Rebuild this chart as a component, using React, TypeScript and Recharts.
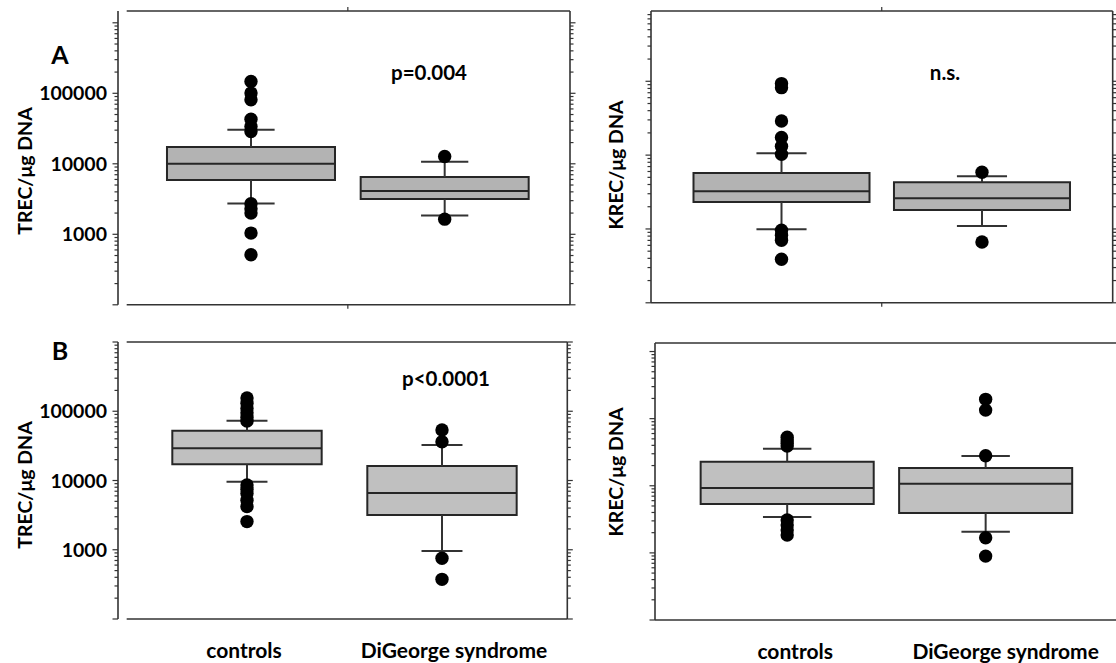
import React from 'react';
import { ComposedChart, XAxis, YAxis, Scatter, ReferenceArea, ReferenceLine } from 'recharts';

// ---------- data ----------
const CATEGORIES = ['controls', 'DiGeorge syndrome'];
const CATEGORY_X = [1, 2];
const Y_LABELED_TICKS = [1000, 10000, 100000];

// Panel A – TREC/µg DNA (cohort A)
const A_WHISKER_LOW = [2735, 1850];
const A_Q1 = [5880, 3160];
const A_MEDIAN = [10000, 4100];
const A_Q3 = [17250, 6480];
const A_WHISKER_HIGH = [30300, 10670];
const A_OUTLIERS_CONTROLS = [146800, 100700, 80900, 43000, 33800, 28700, 2710, 2300, 2000, 1040, 512];
const A_OUTLIERS_DIGEORGE = [12700, 1640];

// Panel A right – KREC/µg DNA
const C_WHISKER_LOW = [988, 1096];
const C_Q1 = [2320, 1807];
const C_MEDIAN = [3235, 2600];
const C_Q3 = [5730, 4290];
const C_WHISKER_HIGH = [10600, 5160];
const C_OUTLIERS_CONTROLS = [93000, 82000, 29000, 17300, 13200, 10250, 960, 820, 702, 388];
const C_OUTLIERS_DIGEORGE = [5850, 666];

// Panel B – TREC/µg DNA (cohort B)
const B_WHISKER_LOW = [9600, 960];
const B_Q1 = [17100, 3180];
const B_MEDIAN = [29200, 6600];
const B_Q3 = [52400, 16200];
const B_WHISKER_HIGH = [73100, 32600];
const B_OUTLIERS_CONTROLS = [155000, 130000, 110000, 95000, 82000, 72000, 8600, 7500, 6500, 5200, 4200, 2550];
const B_OUTLIERS_DIGEORGE = [53600, 36300, 753, 374];

// Panel B right – KREC/µg DNA
const D_WHISKER_LOW = [3420, 2060];
const D_Q1 = [5340, 3920];
const D_MEDIAN = [9250, 10700];
const D_Q3 = [22800, 18400];
const D_WHISKER_HIGH = [35600, 27700];
const D_OUTLIERS_CONTROLS = [53000, 48000, 43000, 39000, 3100, 2600, 2200, 1850];
const D_OUTLIERS_DIGEORGE = [194000, 134000, 28000, 1680, 895];

// ---------- styling ----------
const FONT = "Lato, 'Open Sans', 'DejaVu Sans', sans-serif";
const LINE = '#333333';
const BOX_STROKE = '#262626';

function logTicks(lo: number, hi: number) {
  const out: number[] = [];
  for (let d = 1; d <= 7; d++) {
    for (let m = 1; m <= 9; m++) {
      const v = m * Math.pow(10, d);
      if (v >= lo * 0.9999 && v <= hi * 1.0001) out.push(v);
    }
  }
  return out;
}

function isMajor(v: number) {
  const l = Math.log10(v);
  return Math.abs(l - Math.round(l)) < 1e-6;
}

const YTick = (props: any) => {
  const { x, y, payload, side, showLabels } = props;
  const v = payload.value;
  const major = isMajor(v);
  const len = major ? 5.5 : 3.5;
  const dir = side === 'left' ? -1 : 1;
  return (
    <g>
      <line x1={x} x2={x + dir * len} y1={y} y2={y} stroke={LINE} strokeWidth={1.2} />
      {showLabels && major && Y_LABELED_TICKS.includes(v) ? (
        <text x={x - 11} y={y} dy="0.36em" textAnchor="end" fontFamily={FONT} fontWeight={700} fontSize={19.5} fill="#000">
          {String(Math.round(v))}
        </text>
      ) : null}
    </g>
  );
};

const XTick = (props: any) => {
  const { x, y, payload, labelDx, up } = props;
  const v = payload.value;
  const i = CATEGORY_X.indexOf(v);
  if (i < 0) {
    return <line x1={x} x2={x} y1={y} y2={up ? y - 4 : y + 4} stroke={LINE} strokeWidth={1.2} />;
  }
  return (
    <text x={x + (labelDx ? labelDx[i] : 0)} y={y + 31} dy="0.36em" textAnchor="middle" fontFamily={FONT} fontWeight={700} fontSize={21} fill="#000">
      {CATEGORIES[i]}
    </text>
  );
};

type PanelCfg = {
  plotLeft: number; plotTop: number; plotRight: number; plotBottom: number;
  xDomain: [number, number]; frameX0: number; yDomain: [number, number];
  boxHalf: number; capHalf: number; fill: string;
  centerTick: boolean; catLabels: boolean; labelDx: number[]; yLabels: boolean;
  lo: number[]; q1: number[]; med: number[]; q3: number[]; hi: number[];
  outControls: number[]; outDiGeorge: number[];
};

function Panel({ cfg }: { cfg: PanelCfg }) {
  const LEFT_W = 110, RIGHT_W = 12, TOP_H = 10, BOTTOM_H = 50, PAD = 4;
  const divLeft = cfg.plotLeft - LEFT_W - PAD;
  const divTop = cfg.plotTop - TOP_H - PAD;
  const width = cfg.plotRight + RIGHT_W + PAD - divLeft;
  const height = cfg.plotBottom + BOTTOM_H + PAD - divTop;
  const yTicks = logTicks(cfg.yDomain[0], cfg.yDomain[1]);
  const [yMin, yMax] = cfg.yDomain;
  const xMax = cfg.xDomain[1];
  const outliers = [
    ...cfg.outControls.map((v) => ({ x: CATEGORY_X[0], y: v })),
    ...cfg.outDiGeorge.map((v) => ({ x: CATEGORY_X[1], y: v })),
  ];
  const ax = { xAxisId: 'b', yAxisId: 'l' } as const;
  const bottomTicks = cfg.catLabels ? CATEGORY_X : cfg.centerTick ? [1.5] : [];
  return (
    <div style={{ position: 'absolute', left: divLeft, top: divTop, width, height }}>
      <ComposedChart width={width} height={height} margin={{ top: PAD, right: PAD, bottom: PAD, left: PAD }}>
        <XAxis
          xAxisId="b" dataKey="x" type="number" domain={cfg.xDomain} allowDataOverflow ticks={bottomTicks} interval={0}
          height={BOTTOM_H} axisLine={false} tickLine={false} tickSize={0} tickMargin={0}
          tick={(p: any) => <XTick {...p} labelDx={cfg.labelDx} />}
        />
        <XAxis
          xAxisId="t" dataKey="x" orientation="top" type="number" domain={cfg.xDomain} allowDataOverflow
          ticks={cfg.centerTick ? [1.5] : []} interval={0} height={TOP_H} axisLine={false} tickLine={false}
          tickSize={0} tickMargin={0} tick={(p: any) => <XTick {...p} up />}
        />
        <YAxis
          yAxisId="l" dataKey="y" type="number" scale="log" domain={cfg.yDomain} allowDataOverflow ticks={yTicks} interval={0}
          width={LEFT_W} axisLine={{ stroke: LINE, strokeWidth: 1.6 }} tickLine={false} tickSize={0} tickMargin={0}
          tick={(p: any) => <YTick {...p} side="left" showLabels={cfg.yLabels} />}
        />
        <YAxis
          yAxisId="r" dataKey="y" orientation="right" type="number" scale="log" domain={cfg.yDomain} allowDataOverflow
          ticks={yTicks} interval={0} width={RIGHT_W} axisLine={{ stroke: LINE, strokeWidth: 1.6 }} tickLine={false}
          tickSize={0} tickMargin={0} tick={(p: any) => <YTick {...p} side="right" showLabels={false} />}
        />
        {/* frame */}
        <ReferenceLine {...ax} ifOverflow="visible" stroke={LINE} strokeWidth={1.6}
          segment={[{ x: cfg.frameX0, y: yMax }, { x: xMax, y: yMax }]} />
        <ReferenceLine {...ax} ifOverflow="visible" stroke={LINE} strokeWidth={1.6}
          segment={[{ x: cfg.frameX0, y: yMin }, { x: xMax, y: yMin }]} />
        {/* whiskers */}
        {CATEGORY_X.map((cx, i) => (
          <React.Fragment key={'w' + i}>
            <ReferenceLine {...ax} ifOverflow="visible" stroke={LINE} strokeWidth={2}
              segment={[{ x: cx, y: cfg.q3[i] }, { x: cx, y: cfg.hi[i] }]} />
            <ReferenceLine {...ax} ifOverflow="visible" stroke={LINE} strokeWidth={2}
              segment={[{ x: cx, y: cfg.lo[i] }, { x: cx, y: cfg.q1[i] }]} />
            <ReferenceLine {...ax} ifOverflow="visible" stroke={LINE} strokeWidth={2}
              segment={[{ x: cx - cfg.capHalf, y: cfg.hi[i] }, { x: cx + cfg.capHalf, y: cfg.hi[i] }]} />
            <ReferenceLine {...ax} ifOverflow="visible" stroke={LINE} strokeWidth={2}
              segment={[{ x: cx - cfg.capHalf, y: cfg.lo[i] }, { x: cx + cfg.capHalf, y: cfg.lo[i] }]} />
          </React.Fragment>
        ))}
        {/* boxes */}
        {CATEGORY_X.map((cx, i) => (
          <ReferenceArea key={'b' + i} {...ax} ifOverflow="visible" x1={cx - cfg.boxHalf} x2={cx + cfg.boxHalf}
            y1={cfg.q1[i]} y2={cfg.q3[i]} fill={cfg.fill} fillOpacity={1} stroke={BOX_STROKE} strokeWidth={2} />
        ))}
        {/* medians */}
        {CATEGORY_X.map((cx, i) => (
          <ReferenceLine key={'m' + i} {...ax} ifOverflow="visible" stroke={BOX_STROKE} strokeWidth={2}
            segment={[{ x: cx - cfg.boxHalf, y: cfg.med[i] }, { x: cx + cfg.boxHalf, y: cfg.med[i] }]} />
        ))}
        <Scatter {...ax} data={outliers} dataKey="y" isAnimationActive={false}
          shape={(p: any) => <circle cx={p.cx} cy={p.cy} r={6.7} fill="#000" />} />
      </ComposedChart>
    </div>
  );
}

const PANEL_A: PanelCfg = {
  plotLeft: 118, plotTop: 11.2, plotRight: 570, plotBottom: 305,
  xDomain: [0.3134, 2.647], frameX0: 0.3583, yDomain: [100, 1470000],
  boxHalf: 0.4337, capHalf: 0.122, fill: '#b3b3b3', centerTick: true, catLabels: false, labelDx: [0, 0], yLabels: true,
  lo: A_WHISKER_LOW, q1: A_Q1, med: A_MEDIAN, q3: A_Q3, hi: A_WHISKER_HIGH,
  outControls: A_OUTLIERS_CONTROLS, outDiGeorge: A_OUTLIERS_DIGEORGE,
};
const PANEL_C: PanelCfg = {
  plotLeft: 651, plotTop: 10.7, plotRight: 1112.7, plotBottom: 302.5,
  xDomain: [0.349, 2.652], frameX0: 0.349, yDomain: [100, 895000],
  boxHalf: 0.439, capHalf: 0.125, fill: '#b3b3b3', centerTick: true, catLabels: false, labelDx: [0, 0], yLabels: false,
  lo: C_WHISKER_LOW, q1: C_Q1, med: C_MEDIAN, q3: C_Q3, hi: C_WHISKER_HIGH,
  outControls: C_OUTLIERS_CONTROLS, outDiGeorge: C_OUTLIERS_DIGEORGE,
};
const PANEL_B: PanelCfg = {
  plotLeft: 118, plotTop: 342, plotRight: 567.3, plotBottom: 619,
  xDomain: [0.3385, 2.6426], frameX0: 0.383, yDomain: [100, 1000000],
  boxHalf: 0.383, capHalf: 0.105, fill: '#c0c0c0', centerTick: false, catLabels: true, labelDx: [-3, 12], yLabels: true,
  lo: B_WHISKER_LOW, q1: B_Q1, med: B_MEDIAN, q3: B_Q3, hi: B_WHISKER_HIGH,
  outControls: B_OUTLIERS_CONTROLS, outDiGeorge: B_OUTLIERS_DIGEORGE,
};
const PANEL_D: PanelCfg = {
  plotLeft: 655, plotTop: 343, plotRight: 1122, plotBottom: 620,
  xDomain: [0.334, 2.687], frameX0: 0.334, yDomain: [100, 1340000],
  boxHalf: 0.436, capHalf: 0.122, fill: '#c0c0c0', centerTick: false, catLabels: true, labelDx: [8, 20], yLabels: false,
  lo: D_WHISKER_LOW, q1: D_Q1, med: D_MEDIAN, q3: D_Q3, hi: D_WHISKER_HIGH,
  outControls: D_OUTLIERS_CONTROLS, outDiGeorge: D_OUTLIERS_DIGEORGE,
};

const textStyle = (x: number, y: number, size: number, rotate = false): React.CSSProperties => ({
  position: 'absolute', left: x, top: y, transform: `translate(-50%, -50%)${rotate ? ' rotate(-90deg)' : ''}`,
  fontFamily: FONT, fontWeight: 700, fontSize: size, color: '#000', whiteSpace: 'nowrap', lineHeight: 1,
});

export default function App() {
  return (
    <div style={{ position: 'absolute', left: 0, top: 0, width: 1116, height: 663, overflow: 'hidden', background: '#fff' }}>
      <Panel cfg={PANEL_A} />
      <Panel cfg={PANEL_C} />
      <Panel cfg={PANEL_B} />
      <Panel cfg={PANEL_D} />
      <div style={textStyle(60, 54, 25)}>A</div>
      <div style={textStyle(60, 350, 25)}>B</div>
      <div style={textStyle(429, 72, 20.5)}>p=0.004</div>
      <div style={textStyle(446, 378, 20.5)}>p&lt;0.0001</div>
      <div style={textStyle(945, 72, 20.5)}>n.s.</div>
      <div style={textStyle(25, 171, 19.5, true)}>TREC/μg DNA</div>
      <div style={textStyle(25, 485, 19.5, true)}>TREC/μg DNA</div>
      <div style={textStyle(616, 165, 19.5, true)}>KREC/μg DNA</div>
      <div style={textStyle(616, 472, 19.5, true)}>KREC/μg DNA</div>
    </div>
  );
}
